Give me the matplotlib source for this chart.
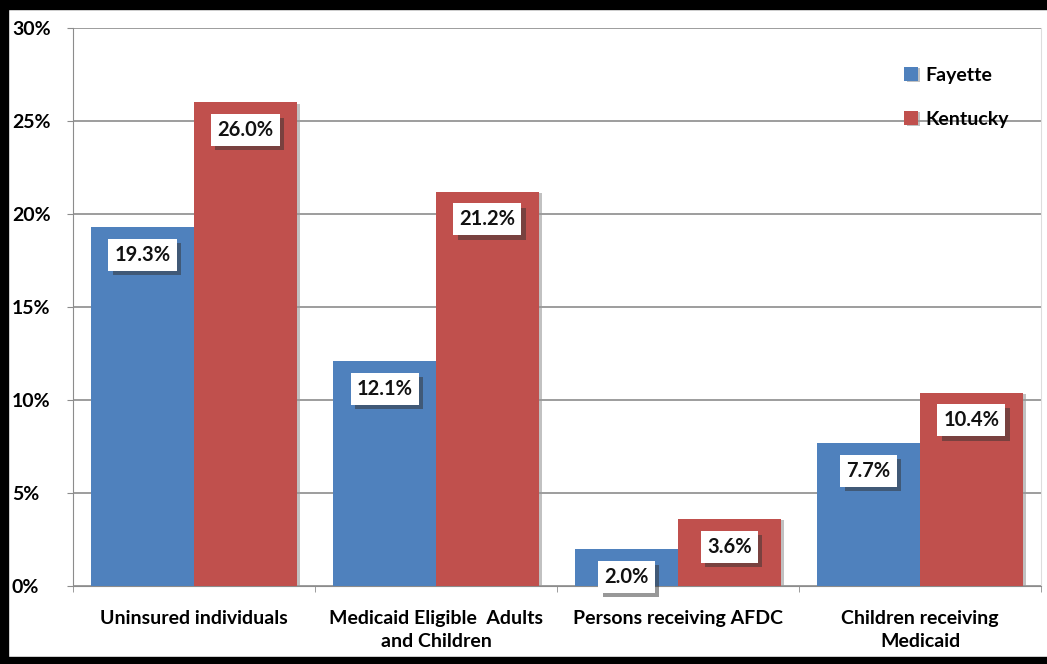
import numpy as np
import matplotlib.pyplot as plt
import matplotlib.patheffects as pe
from matplotlib.patches import Rectangle

categories = ["Uninsured individuals", "Medicaid Eligible  Adults\nand Children",
              "Persons receiving AFDC", "Children receiving\nMedicaid"]
fayette = [19.3, 12.1, 2.0, 7.7]
kentucky = [26.0, 21.2, 3.6, 10.4]
yticks = [0, 5, 10, 15, 20, 25, 30]

blue = "#4F81BD"
red = "#C0504D"
font = "Lato"

fig = plt.figure(figsize=(10.47, 6.64), dpi=100)
ax = fig.add_axes([73 / 1047, 1 - 586 / 664, (1041 - 73) / 1047, (586 - 28) / 664])

x = np.arange(len(categories))
w = 0.425
shadow = [pe.SimplePatchShadow(offset=(2, -1), shadow_rgbFace="#999999", alpha=0.6), pe.Normal()]
b1 = ax.bar(x - w / 2, fayette, w, color=blue, label="Fayette", zorder=3)
b2 = ax.bar(x + w / 2, kentucky, w, color=red, label="Kentucky", zorder=3)
for b in list(b1) + list(b2):
    b.set_path_effects(shadow)

# value labels in white boxes
for bars, vals in [(b1, fayette), (b2, kentucky)]:
    for b, v in zip(bars, vals):
        t = ax.annotate(f"{v:.1f}%", (b.get_x() + b.get_width() / 2, v),
                        xytext=(0, -20), textcoords="offset points",
                        ha="center", va="center", fontsize=14.5, fontweight="bold",
                        family=font, color="#111111", zorder=5,
                        bbox=dict(boxstyle="square,pad=0.3", fc="white", ec="none"))
        t.get_bbox_patch().set_path_effects(
            [pe.SimplePatchShadow(offset=(3, -3), shadow_rgbFace="#333333", alpha=0.5), pe.Normal()])

ax.set_xlim(-0.5, 3.5)
ax.set_ylim(0, 30)
ax.set_yticks(yticks)
ax.set_yticklabels([f"{t}%" for t in yticks], fontsize=14, fontweight="bold", family=font,
                   ha="left")
ax.yaxis.grid(True, color="#8C8C8C", linewidth=1.2, zorder=0)
ax.set_axisbelow(True)

ax.set_xticks(x)
ax.set_xticklabels(categories, fontsize=14, fontweight="bold", family=font, linespacing=1.45)
ax.set_xticks(np.arange(-0.5, 4.0, 1), minor=True)
ax.tick_params(axis="x", which="major", length=0, pad=17)
ax.tick_params(axis="x", which="minor", length=4, color="#8C8C8C")
ax.tick_params(axis="y", length=4, color="#8C8C8C", pad=40)

ax.spines["top"].set_visible(False)
ax.spines["right"].set_color("#DDDDDD")
ax.spines["left"].set_color("#8C8C8C")
ax.spines["bottom"].set_color("#8C8C8C")

leg = ax.legend(loc="upper right", bbox_to_anchor=(0.985, 0.962), frameon=False,
                prop=dict(family=font, weight="bold", size=14),
                handlelength=0.7, handleheight=0.7, labelspacing=1.38, handletextpad=0.4)

# black frame on top, left and bottom
fig.patches.append(Rectangle((0, 0), 0.008, 1, transform=fig.transFigure, color="black"))
fig.patches.append(Rectangle((0, 0.986), 1, 0.014, transform=fig.transFigure, color="black"))
fig.patches.append(Rectangle((0, 0), 1, 0.011, transform=fig.transFigure, color="black"))

fig.savefig("out.png", dpi=100)
